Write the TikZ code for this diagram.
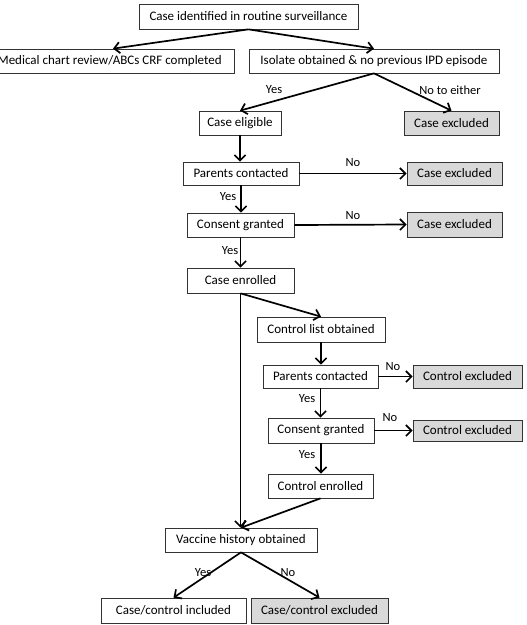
\documentclass[tikz,border=0pt]{standalone}
\usepackage{fontspec}
\setmainfont{Carlito}
\usetikzlibrary{arrows.meta,calc}
\begin{document}
\begin{tikzpicture}[x=1pt,y=-1pt,
  box/.style={draw=black!80,line width=0.7pt,fill=white,inner sep=0pt,font=\fontsize{13}{15}\selectfont},
  gbox/.style={box,fill=black!15},
  arr/.style={line width=1.7pt,-{Straight Barb[length=5.5pt,width=11pt,line width=1.7pt]}},
  lab/.style={font=\fontsize{12.5}{14}\selectfont,inner sep=0pt}]
\clip (0,0) rectangle (527,625);
\node[box,minimum width=219pt,minimum height=25pt] (top) at (248.5,16.5) {Case identified in routine surveillance};
\node[box,anchor=east,minimum height=24pt,inner xsep=13pt] (med) at (235,61) {Medical chart review/ABCs CRF completed};
\node[box,minimum width=250pt,minimum height=24pt] (iso) at (374,61) {Isolate obtained \& no previous IPD episode};
\node[box,minimum width=82pt,minimum height=24pt] (elig) at (240,123) {Case eligible};
\node[gbox,minimum width=95pt,minimum height=24pt] (exa) at (451.5,123) {Case excluded};
\node[box,minimum width=116pt,minimum height=23pt] (pca) at (241,173.5) {Parents contacted};
\node[gbox,minimum width=95pt,minimum height=23pt] (exb) at (454.5,173.5) {Case excluded};
\node[box,minimum width=107pt,minimum height=24pt] (cga) at (240.5,225) {Consent granted};
\node[gbox,minimum width=95pt,minimum height=25pt] (exc) at (454.5,224.5) {Case excluded};
\node[box,minimum width=107pt,minimum height=25pt] (cen) at (240.5,280.5) {Case enrolled};
\node[box,minimum width=128pt,minimum height=25pt] (cl) at (321,329.5) {Control list obtained};
\node[box,minimum width=115pt,minimum height=23pt] (pcb) at (320.5,376.5) {Parents contacted};
\node[gbox,minimum width=109pt,minimum height=23pt] (cxa) at (467.5,376.5) {Control excluded};
\node[box,minimum width=106pt,minimum height=25pt] (cgb) at (321,430.5) {Consent granted};
\node[gbox,minimum width=109pt,minimum height=21pt] (cxb) at (467.5,430.5) {Control excluded};
\node[box,minimum width=105pt,minimum height=24pt] (con) at (320.5,486) {Control enrolled};
\node[box,minimum width=152pt,minimum height=24pt] (vac) at (241,540) {Vaccine history obtained};
\node[box,minimum width=145pt,minimum height=25pt] (inc) at (173.5,610.5) {Case/control included};
\node[gbox,minimum width=137pt,minimum height=25pt] (exf) at (319.5,610.5) {Case/control excluded};

\draw[arr] (top.south) -- ($(med.north east)+(-122,0)$);
\draw[arr] (top.south) -- (iso.north);
\draw[arr] (iso.south) -- (elig.north);
\draw[arr] (iso.south) -- (exa.north);
\draw[arr] (elig.south) -- (elig.south |- pca.north);
\draw[arr] (pca.east) -- (exb.west);
\draw[arr] (pca.south) -- (pca.south |- cga.north);
\draw[arr] (cga.east) -- (exc.west);
\draw[arr] (cga.south) -- (cga.south |- cen.north);
\draw[arr] (cen.south) -- (cl.north);
\draw[arr] (cen.south) -- (cen.south |- vac.north);
\draw[arr] (cl.south) -- (cl.south |- pcb.north);
\draw[arr] (pcb.east) -- (cxa.west);
\draw[arr] (pcb.south) -- (pcb.south |- cgb.north);
\draw[arr] (cgb.east) -- (cxb.west);
\draw[arr] (cgb.south) -- (cgb.south |- con.north);
\draw[arr] (con.south) -- (vac.north);
\draw[arr] (vac.south) -- (inc.north);
\draw[arr] (vac.south) -- (exf.north);

\node[lab] (l1) at (274,90) {Yes};
\node[lab] (l2) at (450,90) {No to either};
\node[lab] (l3) at (353,163) {No};
\node[lab] (l4) at (228,197) {Yes};
\node[lab] (l5) at (353,216) {No};
\node[lab] (l6) at (230,251) {Yes};
\node[lab] (l7) at (393,367) {No};
\node[lab] (l8) at (307,399) {Yes};
\node[lab] (l9) at (390,418) {No};
\node[lab] (l10) at (307,455) {Yes};
\node[lab] (l11) at (203,573) {Yes};
\node[lab] (l12) at (288,573) {No};
\end{tikzpicture}
\end{document}
